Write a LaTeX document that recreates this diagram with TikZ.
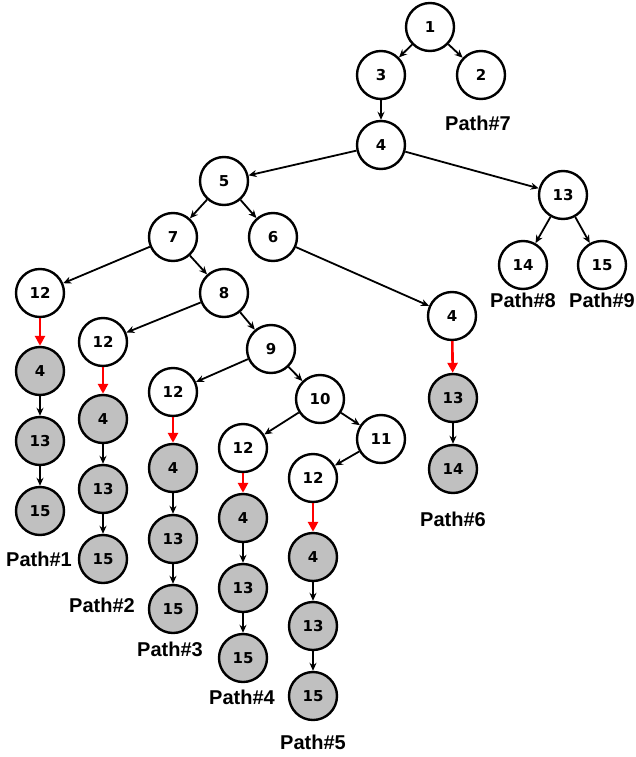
\documentclass[tikz,border=0pt]{standalone}
\usepackage{fontspec}
\setmainfont{DejaVu Sans}
\newfontfamily\labfont{Liberation Sans}
\usetikzlibrary{arrows.meta}
\definecolor{nodegray}{HTML}{C0C0C0}
\tikzset{
  vnode/.style={circle, draw=black, line width=2.4pt, fill=white, minimum size=48pt, inner sep=0pt, font=\fontsize{15}{15}\selectfont\bfseries},
  gnode/.style={vnode, fill=nodegray},
  pathlab/.style={font=\labfont\fontsize{20}{20}\selectfont\bfseries, inner sep=0pt},
  edge/.style={line width=1.8pt, -{Stealth[length=8pt,width=7pt]}},
  redge/.style={line width=2.6pt, red, -{Triangle[length=10pt,width=10pt]}}
}
\begin{document}
\begin{tikzpicture}[x=1pt,y=-1pt]
\useasboundingbox (0,0) rectangle (636,757);
% top
\node[vnode] (n1) at (430,27) {1};
\node[vnode] (n3) at (381,75) {3};
\node[vnode] (n2) at (481,75) {2};
\node[pathlab] (p7) at (478,123) {Path\#7};
\node[vnode] (n4) at (381,145) {4};
\node[vnode] (n5) at (224,181) {5};
\node[vnode] (n13) at (563,195) {13};
\node[vnode] (n7) at (173,237) {7};
\node[vnode] (n6) at (273,237) {6};
\node[vnode] (n14) at (523,265) {14};
\node[vnode] (n15) at (602,265) {15};
\node[pathlab] (p8) at (523,300) {Path\#8};
\node[pathlab] (p9) at (602,300) {Path\#9};
\node[vnode] (a12) at (40,293) {12};
\node[vnode] (n8) at (224,293) {8};
\node[vnode] (r4) at (452,316) {4};
\node[vnode] (b12) at (103,342) {12};
\node[vnode] (n9) at (271,349) {9};
\node[vnode] (c12) at (173,392) {12};
\node[vnode] (n10) at (320,399) {10};
\node[vnode] (n11) at (381,439) {11};
\node[vnode] (d12) at (243,448) {12};
\node[vnode] (e12) at (313,478) {12};
% gray chains
\node[gnode] (a4) at (40,371) {4};
\node[gnode] (a13) at (40,441) {13};
\node[gnode] (a15) at (40,511) {15};
\node[pathlab] (p1) at (39,559) {Path\#1};
\node[gnode] (b4) at (103,419) {4};
\node[gnode] (b13) at (103,489) {13};
\node[gnode] (b15) at (103,559) {15};
\node[pathlab] (p2) at (102,605) {Path\#2};
\node[gnode] (c4) at (173,468) {4};
\node[gnode] (c13) at (173,539) {13};
\node[gnode] (c15) at (173,609) {15};
\node[pathlab] (p3) at (170,649) {Path\#3};
\node[gnode] (d4) at (243,518) {4};
\node[gnode] (d13) at (243,588) {13};
\node[gnode] (d15) at (243,658) {15};
\node[pathlab] (p4) at (242,697) {Path\#4};
\node[gnode] (e4) at (313,557) {4};
\node[gnode] (e13) at (313,626) {13};
\node[gnode] (e15) at (313,696) {15};
\node[pathlab] (p5) at (313,742) {Path\#5};
\node[gnode] (r13) at (453,398) {13};
\node[gnode] (r14) at (453,469) {14};
\node[pathlab] (p6) at (453,519) {Path\#6};
% edges
\draw[edge] (n1) -- (n3);
\draw[edge] (n1) -- (n2);
\draw[edge] (n3) -- (n4);
\draw[edge] (n4) -- (n5);
\draw[edge] (n4) -- (n13);
\draw[edge] (n13) -- (n14);
\draw[edge] (n13) -- (n15);
\draw[edge] (n5) -- (n7);
\draw[edge] (n5) -- (n6);
\draw[edge] (n6) -- (r4);
\draw[edge] (n7) -- (a12);
\draw[edge] (n7) -- (n8);
\draw[edge] (n8) -- (b12);
\draw[edge] (n8) -- (n9);
\draw[edge] (n9) -- (c12);
\draw[edge] (n9) -- (n10);
\draw[edge] (n10) -- (d12);
\draw[edge] (n10) -- (n11);
\draw[edge] (n11) -- (e12);
\draw[redge] (a12) -- (a4);
\draw[redge] (b12) -- (b4);
\draw[redge] (c12) -- (c4);
\draw[redge] (d12) -- (d4);
\draw[redge] (e12) -- (e4);
\draw[redge] (r4) -- (r13);
\draw[edge] (a4) -- (a13);
\draw[edge] (a13) -- (a15);
\draw[edge] (b4) -- (b13);
\draw[edge] (b13) -- (b15);
\draw[edge] (c4) -- (c13);
\draw[edge] (c13) -- (c15);
\draw[edge] (d4) -- (d13);
\draw[edge] (d13) -- (d15);
\draw[edge] (e4) -- (e13);
\draw[edge] (e13) -- (e15);
\draw[edge] (r13) -- (r14);
\end{tikzpicture}
\end{document}
